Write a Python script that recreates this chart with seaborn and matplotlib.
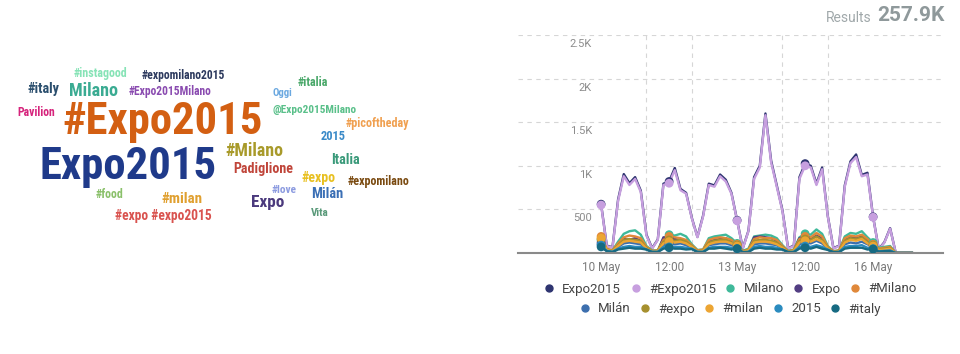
import matplotlib
matplotlib.use('Agg')
import matplotlib.pyplot as plt
import matplotlib.dates as mdates
from matplotlib import font_manager as fm
from matplotlib.lines import Line2D
from matplotlib.ticker import FixedLocator
from matplotlib.transforms import ScaledTranslation
import seaborn as sns
import pandas as pd

sns.set_theme(style="white")
plt.rcParams['font.family'] = ['Roboto', 'DejaVu Sans']

# ---- word cloud data ----
cloud_words = ['#instagood', '#expomilano2015', '#italy', 'Milano', '#Expo2015Milano',
               'Pavilion', '#Expo2015', 'Expo2015', '#Milano', 'Padiglione', '#food',
               '#milan', '#expo #expo2015', 'Expo', '#love', 'Milán', 'Vita', '#expo',
               '#expomilano', 'Italia', '2015', '#picoftheday', '@Expo2015Milano',
               'Oggi', '#italia']
cloud_colors = ['#86e3b6', '#2d3a5e', '#2b4f6e', '#3aab92', '#8a4bb0',
                '#d6247c', '#d35f12', '#1f3a8a', '#a89a2a', '#c0453a', '#8ac06a',
                '#e0a030', '#d9534f', '#4b3a7d', '#8c9be0', '#3a6fb5', '#5a9a7a', '#e8c020',
                '#7a4a10', '#3a9a7a', '#3a8ac8', '#f0a050', '#5ac08a',
                '#6aa8e0', '#4aa86a']

# ---- timeline data (counts every 3 hours from 10 May 00:00) ----
series_names = ['Expo2015', '#Expo2015', 'Milano', 'Expo', '#Milano',
                'Milán', '#expo', '#milan', '2015', '#italy']
series_colors = ['#2e3470', '#c79fdf', '#3fb99a', '#523d82', '#e0883a',
                 '#3d6fae', '#a6902e', '#eca533', '#2a8bbf', '#166a82']

expo2015 = [560, 85, 65, 615, 905, 800, 870, 715,
            210, 55, 155, 795, 820, 975, 735, 690,
            405, 185, 430, 795, 775, 900, 840, 690,
            375, 55, 255, 870, 1000, 1600, 1060, 775,
            490, 55, 85, 870, 1025, 1000, 795, 980,
            425, 55, 85, 775, 1050, 1130, 895, 920,
            415, 45, 125, 285, 0, 0, 0, 0]
h_expo2015 = [550, 80, 60, 600, 880, 780, 850, 700,
              200, 50, 150, 780, 800, 950, 720, 680,
              400, 180, 420, 780, 760, 880, 820, 680,
              370, 50, 250, 850, 980, 1580, 1040, 760,
              480, 50, 80, 850, 1000, 980, 780, 960,
              420, 50, 80, 760, 1030, 1100, 880, 900,
              410, 40, 120, 280, 0, 0, 0, 0]
milano = [150, 40, 30, 130, 220, 250, 260, 210,
          80, 30, 30, 170, 210, 200, 220, 190,
          100, 35, 40, 170, 190, 200, 210, 170,
          110, 25, 50, 190, 200, 210, 200, 170,
          90, 25, 40, 180, 220, 210, 270, 220,
          80, 20, 30, 190, 230, 220, 250, 180,
          120, 60, 70, 80, 0, 0, 0, 0]
expo = [120, 30, 20, 100, 160, 150, 170, 140,
        60, 20, 20, 180, 170, 160, 150, 130,
        70, 20, 30, 130, 150, 160, 170, 140,
        90, 20, 30, 180, 190, 180, 170, 140,
        70, 15, 25, 170, 180, 160, 200, 170,
        60, 15, 25, 160, 190, 170, 190, 140,
        90, 40, 50, 60, 0, 0, 0, 0]
h_milano = [190, 50, 30, 110, 180, 200, 190, 170,
            70, 25, 30, 150, 190, 180, 170, 150,
            90, 30, 40, 150, 170, 180, 170, 150,
            100, 20, 40, 160, 180, 170, 170, 150,
            80, 20, 35, 160, 190, 180, 230, 190,
            70, 20, 30, 170, 200, 190, 210, 160,
            100, 50, 60, 70, 0, 0, 0, 0]
milan_es = [100, 25, 15, 70, 110, 120, 110, 100,
            50, 15, 15, 90, 110, 100, 110, 90,
            60, 15, 20, 90, 100, 110, 110, 90,
            70, 15, 20, 100, 110, 110, 100, 90,
            50, 10, 20, 100, 120, 110, 140, 110,
            50, 10, 20, 100, 120, 110, 130, 100,
            70, 30, 40, 40, 0, 0, 0, 0]
h_expo = [160, 40, 25, 90, 150, 160, 150, 140,
          60, 20, 25, 130, 150, 140, 150, 130,
          80, 20, 30, 120, 140, 150, 150, 120,
          90, 20, 35, 140, 150, 150, 140, 120,
          70, 15, 30, 140, 160, 150, 190, 150,
          60, 15, 25, 140, 170, 160, 180, 130,
          90, 40, 50, 60, 0, 0, 0, 0]
h_milan = [170, 35, 20, 80, 130, 140, 130, 120,
           50, 15, 20, 110, 130, 120, 130, 110,
           70, 15, 25, 100, 120, 130, 130, 110,
           80, 15, 30, 120, 130, 130, 120, 100,
           60, 10, 25, 120, 140, 130, 160, 130,
           50, 10, 20, 120, 150, 140, 160, 110,
           80, 35, 40, 50, 0, 0, 0, 0]
n2015 = [90, 25, 15, 50, 70, 80, 70, 70,
         40, 15, 15, 70, 70, 70, 70, 60,
         50, 15, 15, 60, 70, 70, 70, 60,
         50, 10, 15, 70, 80, 70, 70, 60,
         40, 10, 15, 70, 80, 70, 90, 70,
         40, 10, 15, 70, 80, 80, 90, 60,
         50, 20, 25, 30, 0, 0, 0, 0]
h_italy = [70, 20, 10, 40, 50, 60, 50, 50,
           40, 10, 10, 50, 60, 50, 50, 40,
           45, 10, 10, 50, 50, 60, 50, 40,
           50, 10, 10, 50, 60, 50, 50, 40,
           40, 10, 10, 50, 60, 50, 70, 50,
           35, 10, 10, 50, 60, 60, 60, 40,
           45, 15, 20, 20, 0, 0, 0, 0]

series_values = [expo2015, h_expo2015, milano, expo, h_milano,
                 milan_es, h_expo, h_milan, n2015, h_italy]

times = pd.date_range('2015-05-10 00:00', periods=len(expo2015), freq='3h')
tick_times = pd.to_datetime(['2015-05-10 00:00', '2015-05-11 12:00', '2015-05-13 00:00',
                             '2015-05-14 12:00', '2015-05-16 00:00'])
tick_labels = ['10 May', '12:00', '13 May', '12:00', '16 May']
grid_days = pd.date_range('2015-05-10', '2015-05-16', freq='D')
y_ticks = [500, 1000, 1500, 2000, 2500]
y_labels = ['500', '1K', '1.5K', '2K', '2.5K']
total_results = '257.9K'

df = pd.concat([pd.DataFrame({'time': times, 'count': vals, 'series': name})
                for name, vals in zip(series_names, series_values)],
               ignore_index=True)
palette = dict(zip(series_names, series_colors))


def pick_cloud_font():
    """Narrowest bold-friendly family available, for the word cloud."""
    names = {f.name for f in fm.fontManager.ttflist}
    for pref in ['Roboto Condensed', 'Liberation Sans Narrow', 'Noto Sans Condensed',
                 'Open Sans Condensed', 'DejaVu Sans Condensed']:
        if pref in names:
            return pref
    others = sorted(n for n in names
                    if ('Condensed' in n or 'Narrow' in n) and 'Mono' not in n)
    return others[0] if others else 'Roboto'


fig = plt.figure(figsize=(9.6, 3.54), dpi=100)
fig.patch.set_facecolor('white')
renderer = fig.canvas.get_renderer()

# ---- word cloud (left): centre x, centre y, target width in pixels ----
cloud_layout = [(100, 73, 54), (183, 76, 83), (43, 89, 32), (93, 91, 49), (170, 91, 83),
                (36, 112, 38), (163, 122, 200), (128, 167, 177), (254, 151, 58), (263, 169, 60),
                (109, 195, 28), (182, 199, 41), (163, 216, 97), (268, 203, 33), (284, 190, 25),
                (327, 194, 32), (320, 213, 18), (319, 178, 34),
                (378, 182, 62), (345, 160, 29), (333, 137, 25), (377, 123, 64), (315, 110, 84),
                (282, 93, 20), (313, 83, 31)]
cloud_font = pick_cloud_font()
wc = fig.add_axes([0, 0, 0.5, 1])
wc.set_xlim(0, 480)
wc.set_ylim(354, 0)
wc.axis('off')
for word, color, (x, y, width) in zip(cloud_words, cloud_colors, cloud_layout):
    t = wc.text(x, y, word, color=color, fontsize=10, fontweight='bold',
                family=[cloud_font, 'DejaVu Sans'], fontstretch='condensed',
                ha='center', va='center')
    t.set_fontsize(10 * width / t.get_window_extent(renderer).width)

# ---- timeline (right) ----
ax = fig.add_axes([518 / 960, 1 - 253 / 354, 425 / 960, 218 / 354])
sns.lineplot(data=df, x='time', y='count', hue='series', hue_order=series_names,
             palette=palette, linewidth=1.7, legend=False, ax=ax)
sns.scatterplot(data=df[df['time'].isin(tick_times)], x='time', y='count',
                hue='series', hue_order=series_names, palette=palette,
                s=40, linewidth=0, legend=False, ax=ax, zorder=4)

ax.set_xlim(pd.Timestamp('2015-05-08 04:00'), pd.Timestamp('2015-05-17 13:00'))
ax.set_ylim(0, 2500)
ax.set_xticks(tick_times, tick_labels)
ax.xaxis.set_minor_locator(FixedLocator(mdates.date2num(grid_days)))
ax.set_yticks(y_ticks, [''] * len(y_ticks))
ax.tick_params(axis='x', which='both', length=0, pad=6, labelsize=8.5, labelcolor='#7a7a7a')
ax.tick_params(axis='y', length=0)
ax.grid(False)
ax.grid(axis='y', which='major', color='#d6d6d6', lw=0.8, ls=(0, (4, 4)))
ax.grid(axis='x', which='minor', color='#d6d6d6', lw=0.8, ls=(0, (4, 4)))
ax.set_xlabel('')
ax.set_ylabel('')
for side in ['top', 'right', 'left']:
    ax.spines[side].set_visible(False)
ax.spines['bottom'].set_color('#8a8a8a')
ax.spines['bottom'].set_linewidth(1.5)

offset = ScaledTranslation(0, -0.04, fig.dpi_scale_trans)
for v, lab in zip(y_ticks, y_labels):
    ax.text(0.174, v, lab, transform=ax.get_yaxis_transform() + offset,
            ha='right', va='top', fontsize=8, color='#8c8c8c')

# results counter
num = fig.text(945 / 960, 1 - 25 / 354, total_results, ha='right', va='bottom',
               fontsize=15, fontweight='bold', color='#8f999b')
fig.add_artist(plt.Annotation('Results', xy=(0, 0), xycoords=num, xytext=(-4, 0),
                              textcoords='offset points', ha='right', va='bottom',
                              fontsize=10, color='#a0a8aa'))

# legend in two centred rows
handles = [Line2D([], [], marker='o', ls='none', color=c, markersize=5)
           for c in series_colors]
for row, yy in [(slice(0, 5), 1 - 289 / 354), (slice(5, 10), 1 - 309 / 354)]:
    fig.legend(handles[row], series_names[row], loc='center', bbox_to_anchor=(0.76, yy),
               ncol=5, frameon=False, fontsize=9.5, labelcolor='#444444',
               handlelength=1.0, handletextpad=0.5, columnspacing=0.6,
               borderpad=0, borderaxespad=0)

fig.savefig('out.png', dpi=100, facecolor='white')
plt.close(fig)
